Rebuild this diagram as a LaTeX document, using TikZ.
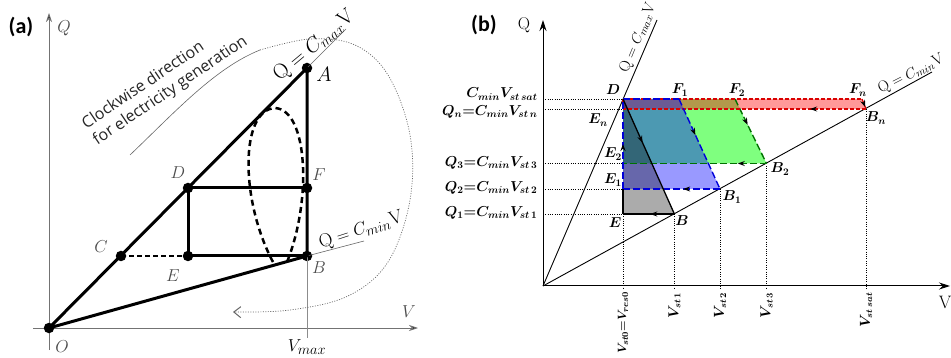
\documentclass[tikz,border=0pt]{standalone}
\usepackage{fontspec}
\newfontfamily\osans{Open Sans}
\newfontfamily\carl{Carlito}
\usetikzlibrary{arrows.meta,decorations.markings}
\begin{document}
\begin{tikzpicture}[x=1pt,y=-1pt,
  axisA/.style={draw=black!55, line width=0.9pt},
  heavy/.style={line width=3pt, line cap=round, line join=round},
  dot/.style={circle, fill=black, inner sep=0pt, minimum size=10.5pt},
  lblA/.style={font=\fontsize{17}{17}\selectfont, text=black!70},
  lblB/.style={font=\fontsize{14.5}{14.5}\selectfont\boldmath},
  lblBot/.style={font=\fontsize{13.5}{13.5}\selectfont\boldmath},
  panel/.style={font=\carl\bfseries\fontsize{22}{22}\selectfont},
  guide/.style={line width=0.6pt, dash pattern=on 1pt off 1.3pt},
  thinln/.style={draw=black!60, line width=0.6pt},
  midarr/.style={postaction={decorate, decoration={markings, mark=at position #1 with {\arrow[solid,black]{Stealth[length=7pt,width=5pt]}}}}},
  bdash/.style={draw=blue!85!black, line width=1.4pt, dash pattern=on 7pt off 3pt},
  gdash/.style={draw=green!45!black, line width=1.4pt, dash pattern=on 7pt off 3pt},
  rdash/.style={draw=red!85!black, line width=1.2pt, dash pattern=on 4pt off 2pt},
]
\useasboundingbox (0,0) rectangle (951,358);

% ================= panel (a) =================
\node[panel] (pa) at (21,27) {(a)};
\coordinate (Qa0) at (49,350);
\coordinate (Qa1) at (49,13);
\coordinate (Va0) at (33,328);
\coordinate (Va1) at (418,328);
\draw[axisA, -{Stealth[length=9pt,width=6pt,fill=black]}] (Qa0) -- (Qa1);
\draw[axisA, -{Stealth[length=9pt,width=6pt,fill=black]}] (Va0) -- (Va1);
\node[lblA] (Qlab) at (64,28) {$Q$};
\node[lblA] (Vlab) at (409,312) {$V$};

\node[dot] (O) at (49,328) {};
\node[dot] (A) at (307,68) {};
\node[dot] (F) at (307,188) {};
\node[dot] (B) at (307,256) {};
\node[dot] (D) at (188,188) {};
\node[dot] (E) at (188,256) {};
\node[dot] (C) at (121,256) {};

\coordinate (Aext) at (346,29);
\coordinate (Bext) at (364,241);
\coordinate (Vm) at (307,338);
\draw[thinln] (A.center) -- (Aext);
\draw[thinln] (B.center) -- (Bext);
\draw[draw=black!45, line width=0.5pt] (B.center) -- (Vm);

\draw[heavy] (O.center) -- (A.center) -- (B.center) -- cycle;
\draw[heavy] (D.center) -- (F.center);
\draw[heavy] (D.center) -- (E.center) -- (B.center);
\draw[line width=2.2pt, dash pattern=on 5pt off 3pt] (C.center) -- (E.center);

% dashed loop
\coordinate (L0) at (273,262);
\coordinate (L1) at (275,108);
\coordinate (L2) at (287,262);
\draw[line width=2.5pt, dash pattern=on 6pt off 4pt]
  (L0) .. controls (240,200) and (240,110) .. (L1)
       .. controls (308,110) and (312,200) .. (L2);

% clockwise arrow
\coordinate (cw1) at (130,155);
\coordinate (cw2) at (260,50);
\draw[thinln] (cw1) .. controls (175,112) and (215,68) .. (cw2);
\draw[draw=black!60, line width=0.7pt, dash pattern=on 1pt off 1.5pt,
      -{Straight Barb[length=7pt,width=11pt,line width=1pt]}]
  plot[smooth, tension=0.6] coordinates {(260,50) (310,39) (355,45) (388,75) (410,135) (410,200) (388,262) (348,296) (290,310) (233,312)};
\node[rotate=34, align=left, font=\osans\fontsize{16}{19.5}\selectfont, text=black!85] (cwtext) at (165,83)
  {Clockwise direction\\for electricity generation};

\node[font=\fontsize{21}{21}\selectfont] (Alab) at (324,74) {$A$};
\node[lblA] (Flab) at (319,175) {$F$};
\node[lblA] (Dlab) at (178,173) {$D$};
\node[lblA] (Clab) at (101,247) {$C$};
\node[lblA] (Elab) at (173,276) {$E$};
\node[lblA] (Blab) at (319,268) {$B$};
\node[lblA] (Olab) at (62,347) {$O$};
\node[font=\fontsize{19}{19}\selectfont] (Vmlab) at (307,347) {$V_{max}$};
\node[rotate=40, font=\fontsize{21}{21}\selectfont] (cmaxa) at (314,46) {$\mathrm{Q}=C_{max}\mathrm{V}$};
\node[rotate=18, font=\fontsize{19}{19}\selectfont] (cmina) at (361,230) {$\mathrm{Q}=C_{min}\mathrm{V}$};

% ================= panel (b) =================
\node[panel] (pb) at (484,25) {(b)};
\coordinate (O2) at (543,286);
\coordinate (Qb1) at (543,20);
\coordinate (Vb1) at (950,286);
\coordinate (CmaxE) at (657,20);
\coordinate (CminE) at (932,72);

\coordinate (Db) at (623,99);
\coordinate (F1) at (679,99);
\coordinate (F2) at (735,99);
\coordinate (Fn) at (862,99);
\coordinate (En) at (623,109);
\coordinate (Bn) at (866,109);
\coordinate (E2) at (623,163.5);
\coordinate (B2) at (766.5,163.5);
\coordinate (E1) at (623,189);
\coordinate (B1) at (720,189);
\coordinate (Eb) at (623,214);
\coordinate (Bb) at (674.4,214);

% fills
\fill[green, fill opacity=0.5] (Db) -- (F2) -- (B2) -- (E2) -- cycle;
\fill[red, fill opacity=0.4] (Db) -- (Fn) -- (Bn) -- (En) -- cycle;
\fill[blue, fill opacity=0.4] (Db) -- (F1) -- (B1) -- (E1) -- cycle;
\fill[black, fill opacity=0.33] (Db) -- (Bb) -- (Eb) -- cycle;

% guides
\foreach \y/\n in {99/gs, 109/gn, 163.5/g3, 189/g2, 214/g1} {
  \coordinate (\n) at (543,\y);
}
\draw[guide] (gs) -- (Db);
\draw[guide] (gn) -- (En);
\draw[guide] (g3) -- (E2);
\draw[guide] (g2) -- (E1);
\draw[guide] (g1) -- (Eb);
\coordinate (x0) at (623,288);
\coordinate (x1) at (674.4,289);
\coordinate (x2) at (720,289);
\coordinate (x3) at (766.5,289);
\coordinate (xs) at (866,289);
\draw[guide] (Eb) -- (x0);
\draw[guide] (Bb) -- (x1);
\draw[guide] (B1) -- (x2);
\draw[guide] (B2) -- (x3);
\draw[guide] (Bn) -- (xs);

% axes and lines
\draw[line width=1pt, -{Stealth[length=11pt,width=7pt]}] (O2) -- (Qb1);
\draw[line width=1pt, -{Stealth[length=11pt,width=7pt]}] (O2) -- (Vb1);
\draw[line width=0.9pt] (O2) -- (CmaxE);
\draw[line width=0.9pt] (O2) -- (CminE);

% cycles
\draw[gdash, midarr=0.4] (F2) -- (B2);
\draw[gdash, midarr=0.2] (B2) -- (E2);
\draw[rdash] (Db) -- (Fn);
\draw[rdash, midarr=0.8] (Fn) -- (Bn);
\draw[rdash, midarr=0.23] (Bn) -- (En);
\draw[rdash] (En) -- (Db);
\draw[bdash, midarr=0.5] (E1) -- (Db);
\draw[bdash] (Db) -- (F1);
\draw[bdash, midarr=0.4] (F1) -- (B1);
\draw[bdash, midarr=0.38] (B1) -- (E1);
\draw[line width=1.3pt, midarr=0.38] (Db) -- (Bb);
\draw[line width=1.3pt, midarr=0.47] (Bb) -- (Eb);
\draw[line width=1.3pt] (Eb) -- (E1);

% labels
\node[font=\fontsize{17}{17}\selectfont] (Qblab) at (524,25) {Q};
\node[font=\fontsize{18}{18}\selectfont] (Vblab) at (945,302) {V};
\node[rotate=67.5, font=\fontsize{15.5}{15.5}\selectfont] (cmaxb) at (638,38) {$\mathrm{Q}=C_{max}\mathrm{V}$};
\node[rotate=27, font=\fontsize{15.5}{15.5}\selectfont] (cminb) at (911,74) {$\mathrm{Q}=C_{min}\mathrm{V}$};

\node[lblB, anchor=east] (ls) at (541,94) {$C_{min}V_{st\,sat}$};
\node[lblB, anchor=east] (ln) at (541,112) {$Q_n{=}C_{min}V_{st\,n}$};
\node[lblB, anchor=east] (l3) at (541,163) {$Q_3{=}C_{min}V_{st\,3}$};
\node[lblB, anchor=east] (l2) at (541,188) {$Q_2{=}C_{min}V_{st\,2}$};
\node[lblB, anchor=east] (l1) at (541,213) {$Q_1{=}C_{min}V_{st\,1}$};

\node[lblBot, font=\fontsize{12.5}{12.5}\selectfont\boldmath, rotate=90, anchor=east] (b0) at (x0) {$V_{st0}{=}V_{res0}$};
\node[lblBot, rotate=90, anchor=east] (b1) at (x1) {$V_{st\,1}$};
\node[lblBot, rotate=90, anchor=east] (b2) at (x2) {$V_{st\,2}$};
\node[lblBot, rotate=90, anchor=east] (b3) at (x3) {$V_{st\,3}$};
\node[lblBot, rotate=90, anchor=east] (bs) at (xs) {$V_{st\,sat}$};

\node[lblB] (tD) at (613,90) {$D$};
\node[lblB] (tF1) at (680,90) {$F_1$};
\node[lblB] (tF2) at (737,90) {$F_2$};
\node[lblB] (tFn) at (858,90) {$F_n$};
\node[lblB] (tBn) at (876,118) {$B_n$};
\node[lblB] (tEn) at (598,120) {$E_n$};
\node[lblB] (tE2) at (613,154) {$E_2$};
\node[lblB] (tE1) at (613,180) {$E_1$};
\node[lblB] (tE) at (615,223) {$E$};
\node[lblB] (tB) at (682,221) {$B$};
\node[lblB] (tB1) at (732,197) {$B_1$};
\node[lblB] (tB2) at (780,169) {$B_2$};
\end{tikzpicture}
\end{document}
